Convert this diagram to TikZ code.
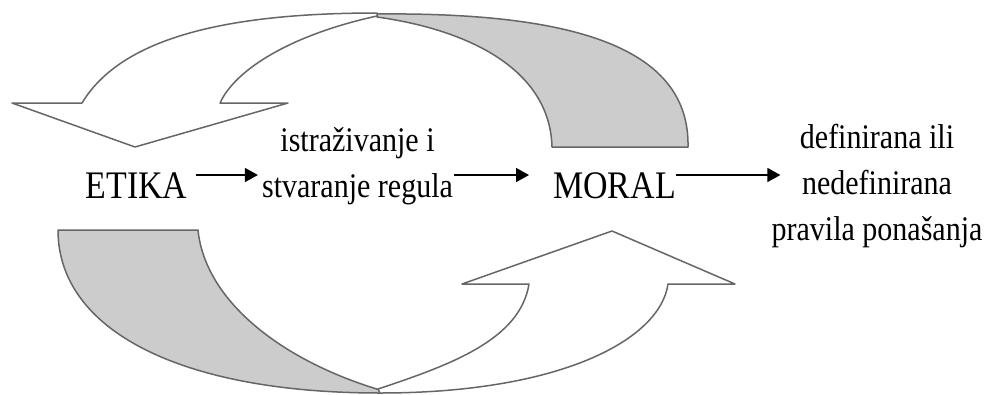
\documentclass[tikz,border=0pt]{standalone}
\usepackage{fontspec}
\setmainfont{Liberation Serif}[FakeStretch=0.87]
\usetikzlibrary{arrows.meta}
\begin{document}
\begin{tikzpicture}[x=1pt,y=-1pt,
  edge/.style={draw=black!60, line width=1.5pt, line join=round},
  band/.style={edge, fill=black!20},
  face/.style={edge, fill=white},
  lbl/.style={inner sep=0pt, font=\fontsize{34.5}{46}\selectfont, align=center},
  big/.style={inner sep=0pt, font=\fontsize{39}{44}\selectfont},
  conn/.style={line width=1.5pt, -{Triangle[length=13pt,width=14pt]}}
]
\useasboundingbox (0,0) rectangle (996,394);

% upper curved arrow (back face, then front face)
\draw[band] (377,14) .. controls (580,12) and (690,50) .. (688,147)
  -- (552,147) .. controls (550,70) and (470,30) .. (377,17) -- cycle;
\draw[face] (82,103) .. controls (120,40) and (220,13) .. (377,13)
  -- (377,16) .. controls (290,35) and (235,70) .. (220,103)
  -- (288,103) -- (135,147) -- (12,103) -- cycle;

% lower curved arrow
\draw[band] (58,230) -- (198,230) .. controls (205,300) and (280,360) .. (380,390)
  -- (380,393) .. controls (180,393) and (58,330) .. (58,230) -- cycle;
\draw[face] (380,393) .. controls (560,393) and (660,340) .. (668,284)
  -- (735,284) -- (612,231) -- (462,284) -- (529,284)
  .. controls (520,340) and (450,365) .. (378,389) -- cycle;

% texts
\node[big, anchor=base] (etika) at (136.5,198) {ETIKA};
\node[big, anchor=base] (moral) at (614.5,198) {MORAL};
\node[lbl] (ist) at (357.5,166) {istraživanje i\\stvaranje regula};
\node[lbl] (def) at (877,186) {definirana ili\\nedefinirana\\pravila ponašanja};

% connectors
\coordinate (row) at (0,175);
\draw[conn] ([xshift=8pt]etika.east |- row) -- ([xshift=-4pt]ist.west |- row);
\draw[conn] ([xshift=1pt]ist.east |- row) -- ([xshift=-24pt]moral.west |- row);
\draw[conn] (moral.east |- row) -- ([xshift=9pt]def.west |- row);
\end{tikzpicture}
\end{document}
